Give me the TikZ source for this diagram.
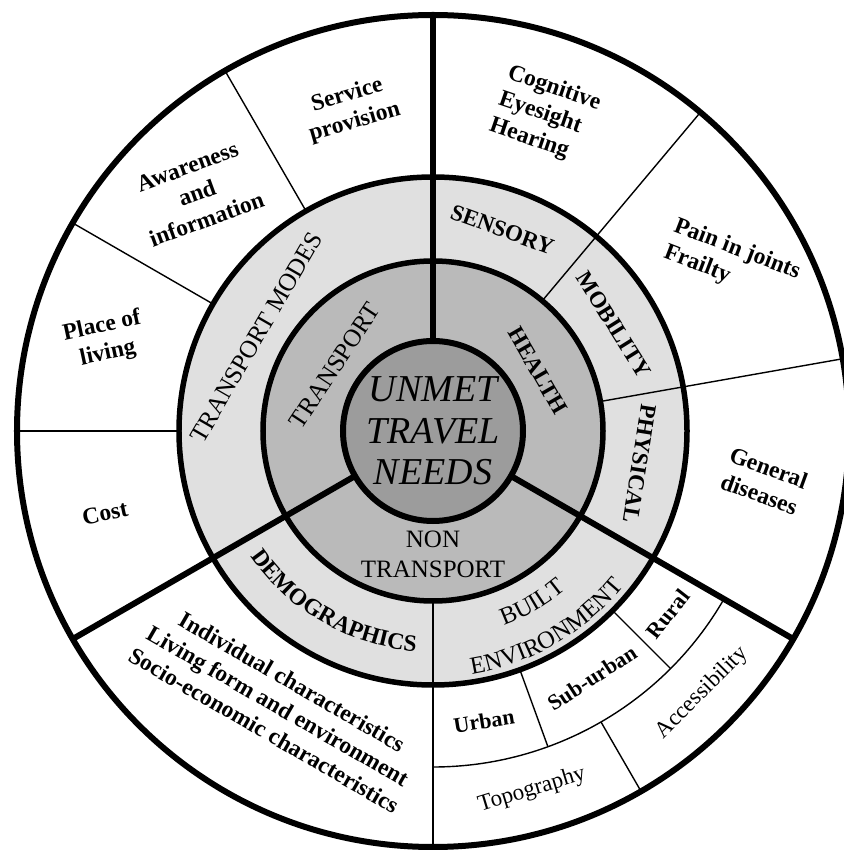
\documentclass[tikz,border=0pt]{standalone}
\usepackage{fontspec}
\setmainfont{Liberation Serif}
\usetikzlibrary{decorations.text}
\definecolor{lightring}{gray}{0.88}
\definecolor{darkring}{gray}{0.73}
\definecolor{corefill}{gray}{0.61}
\newcommand\myringbf{\fontsize{23.5}{28}\selectfont\bfseries}
\newcommand\myringreg{\fontsize{24.5}{28}\selectfont}
\begin{document}
\begin{tikzpicture}[x=1pt,y=1pt,
  thickline/.style={line width=6pt},
  ringline/.style={line width=5.5pt},
  thinline/.style={line width=1.4pt},
  outertxt/.style={font=\fontsize{23.5}{28}\selectfont\bfseries, align=center, inner sep=0pt},
  smalltxt/.style={font=\fontsize{22}{26}\selectfont\bfseries, inner sep=0pt},
  regtxt/.style={font=\fontsize{23}{26}\selectfont, inner sep=0pt},
  ringbf/.style={font=\fontsize{23}{28}\selectfont\bfseries, inner sep=0pt},
  ringreg/.style={font=\fontsize{25}{30}\selectfont, align=center, inner sep=0pt},
  coretxt/.style={font=\fontsize{38}{41.5}\selectfont\itshape, align=center, inner sep=0pt}]
\useasboundingbox (-433,-419) rectangle (410,431);
\fill[white] (-433,-419) rectangle (410,431);
% fills
\fill[lightring] (0,0) circle[radius=254pt];
\fill[darkring] (0,0) circle[radius=170pt];
\fill[corefill] (0,0) circle[radius=90pt];
% thin dividers
\foreach \a in {50,10,270} \draw[thinline] (\a:170pt) -- (\a:416pt);
\foreach \a in {120,150,180} \draw[thinline] (\a:254pt) -- (\a:416pt);
\foreach \a in {290,315} \draw[thinline] (\a:254pt) -- (\a:336pt);
\draw[thinline] (300:336pt) -- (300:416pt);
\draw[thinline] (270:336pt) arc[start angle=270, end angle=330, radius=336pt];
% thick sector dividers
\foreach \a in {90,210,330} \draw[thickline] (\a:90pt) -- (\a:416pt);
% circles
\draw[thickline] (0,0) circle[radius=416pt];
\draw[ringline] (0,0) circle[radius=254pt];
\draw[ringline] (0,0) circle[radius=170pt];
\draw[thickline] (0,0) circle[radius=90pt];
% core
\node[coretxt] (unmet) at (0,0) {UNMET\\TRAVEL\\NEEDS};
% dark ring
\node[ringreg, rotate=56.5] (transport) at (146.4:118pt) {TRANSPORT};
\node[ringbf, rotate=-60] (health) at (30:121pt) {HEALTH};
\node[ringreg] (nontransport) at (0,-123.5) {NON\\TRANSPORT};
% light ring
\node[ringreg, rotate=60] (tmodes) at (152:200pt) {TRANSPORT MODES};
\node[ringbf, rotate=-20] (sensory) at (71:213pt) {SENSORY};
\node[ringbf, rotate=-58] (mobility) at (30.4:210pt) {MOBILITY};
\node[ringbf, rotate=-99] (physical) at (-9:209pt) {PHYSICAL};
\path[decorate, decoration={text along path, text={|\myringbf|DEMOGRAPHICS}, text align=center}]
  (200:221pt) arc[start angle=200, end angle=280, radius=221pt];
\path[decorate, decoration={text along path, text={|\myringreg|BUILT}, text align=center}]
  (260:207pt) arc[start angle=260, end angle=340, radius=207pt];
\path[decorate, decoration={text along path, text={|\myringreg|ENVIRONMENT}, text align=center}]
  (260:246pt) arc[start angle=260, end angle=340, radius=246pt];
% outer ring
\node[outertxt, rotate=16] (service) at (-82,322) {Service\\provision};
\node[outertxt, rotate=20] (aware) at (-236,238) {Awareness\\and\\information};
\node[outertxt, rotate=12] (place) at (-328,91) {Place of\\living};
\node[outertxt, rotate=12] (cost) at (-328,-82) {Cost};
\node[outertxt, rotate=-19, align=left] (cog) at (112,316) {Cognitive\\Eyesight\\Hearing};
\node[outertxt, rotate=-21, align=left] (pain) at (299,168) {Pain in joints\\Frailty};
\node[outertxt, rotate=-20] (general) at (331,-50) {General\\diseases};
\node[outertxt, rotate=-30] (indiv) at (-155,-275) {Individual characteristics\\Living form and environment\\Socio-economic characteristics};
\node[smalltxt, rotate=9] (urban) at (51,-290) {Urban};
\node[smalltxt, rotate=33] (suburban) at (159,-247) {Sub-urban};
\node[smalltxt, rotate=52] (rural) at (235,-183) {Rural};
\node[regtxt, rotate=17] (topo) at (99,-359) {Topography};
\node[regtxt, rotate=45] (access) at (269,-262) {Accessibility};
\end{tikzpicture}
\end{document}
